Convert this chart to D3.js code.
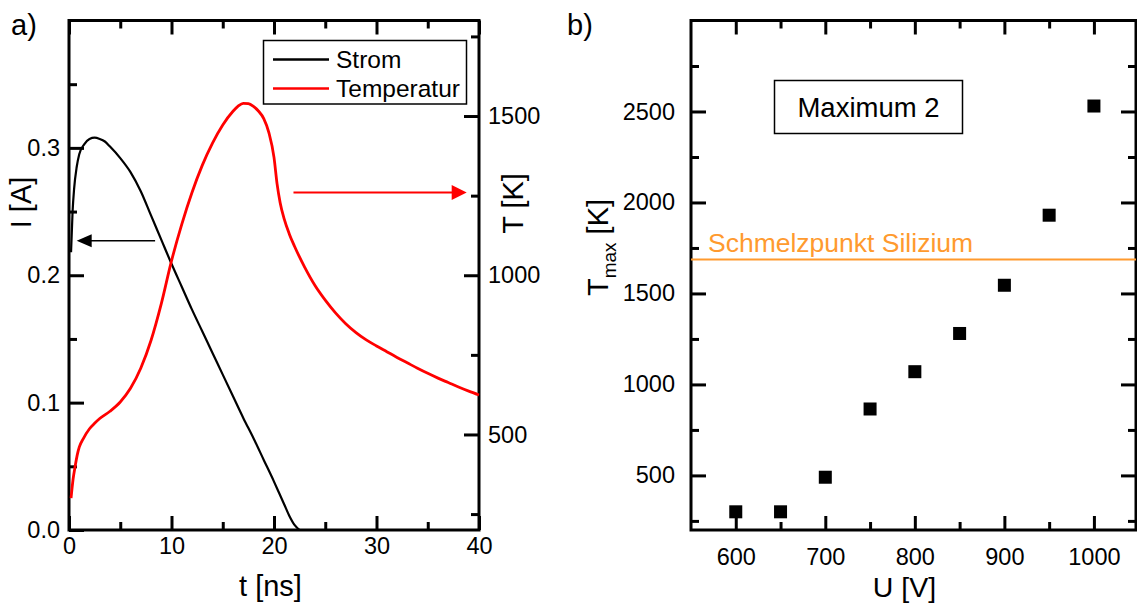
<!DOCTYPE html>
<html><head><meta charset="utf-8">
<script src="https://cdn.jsdelivr.net/npm/d3@7"></script>
<style>
body{margin:0;background:#fff}
svg{display:block;font-family:"Liberation Sans",Arial,Helvetica,sans-serif}
</style></head><body>
<svg id="c" width="1137" height="606"></svg>
<script>
// ---------- Panel a data ----------
const currentTime = [0.2,0.35,0.5,0.75,1.0,1.5,2.0,2.5,3.0,3.5,4.0,5.0,6.0,7.0,8.0,9.0,10.0,11.0,12.0,13.0,14.0,15.0,16.0,17.0,18.0,19.0,20.0,20.5,21.0,21.5,22.0,22.5];
const currentA    = [0.218,0.250,0.268,0.285,0.295,0.303,0.307,0.308,0.307,0.305,0.301,0.292,0.281,0.266,0.247,0.228,0.209,0.191,0.173,0.156,0.139,0.122,0.105,0.088,0.072,0.055,0.038,0.029,0.020,0.011,0.004,0.000];
const tempTime = [0.2,0.4,0.6,0.8,1.0,1.4,2.0,2.5,3.0,4.0,5.0,6.0,7.0,8.0,9.0,10.0,11.0,12.0,13.0,14.0,15.0,16.0,16.5,17.0,17.5,18.0,18.5,19.0,19.5,20.0,20.3,20.6,21.0,21.5,22.0,23.0,24.0,25.0,26.0,27.0,28.0,29.0,30.0,31.0,32.0,33.0,34.0,35.0,36.0,37.0,38.0,39.0,40.0];
const tempK    = [300,360,400,435,460,487,518,535,550,573,602,645,708,795,910,1045,1160,1260,1345,1415,1472,1515,1531,1540,1539,1530,1515,1492,1448,1370,1287,1228,1176,1129,1091,1025,968,922,882,848,820,797,778,760,742,725,708,692,677,663,649,636,624];
const tTicks = [0,10,20,30,40];
const tMinor = [5,15,25,35];
const iTicks = [0.0,0.1,0.2,0.3];
const iMinor = [0.05,0.15,0.25,0.35];
const kTicks = [500,1000,1500];
const kMinor = [250,750,1250,1750];
const legendLabels = ["Strom","Temperatur"];
// arrows: [t start, t end (tip), value]
const arrowCurrent = [8.4, 0.75, 0.227];
const arrowTemp = [21.9, 38.8, 1260];

// ---------- Panel b data ----------
const voltage = [600,650,700,750,800,850,900,950,1000];
const tmax    = [300,300,490,865,1070,1280,1545,1930,2530];
const uTicks = [600,700,800,900,1000];
const uMinor = [650,750,850,950];
const tmTicks = [500,1000,1500,2000,2500];
const tmMinor = [250,750,1250,1750,2250,2750];
const meltingPoint = 1687;
const meltingLabel = "Schmelzpunkt Silizium";
const boxLabel = "Maximum 2";

const svg = d3.select("#c");
const ORANGE = "#ff9a2e";
const TICKFS = 23.5;
const TITLEFS = 29;

function styleAxis(g){
  g.select(".domain").remove();
  g.attr("font-family", null).attr("font-size", TICKFS);
  g.selectAll(".tick line").attr("stroke","#000").attr("stroke-width",3);
  g.selectAll(".tick text").attr("fill","#000");
}

// ================= Panel a =================
const xa = d3.scaleLinear().domain([0,40]).range([69,479]);
const yI = d3.scaleLinear().domain([0,0.4]).range([530,20.5]);
const yT = d3.scaleLinear().domain([200,1800]).range([530,20.5]);
const A = svg.append("g");

A.append("g").attr("transform","translate(0,530)")
  .call(d3.axisBottom(xa).tickValues(tTicks).tickSize(-14).tickPadding(7).tickFormat(d3.format("d"))).call(styleAxis);
A.append("g").attr("transform","translate(0,530)")
  .call(d3.axisBottom(xa).tickValues(tMinor).tickSize(-8).tickFormat("")).call(styleAxis);
A.append("g").attr("transform","translate(0,20.5)")
  .call(d3.axisTop(xa).tickValues(tTicks).tickSize(-14).tickFormat("")).call(styleAxis);
A.append("g").attr("transform","translate(0,20.5)")
  .call(d3.axisTop(xa).tickValues(tMinor).tickSize(-8).tickFormat("")).call(styleAxis);
A.append("g").attr("transform","translate(69,0)")
  .call(d3.axisLeft(yI).tickValues(iTicks).tickSize(-15).tickPadding(9).tickFormat(d3.format(".1f"))).call(styleAxis);
A.append("g").attr("transform","translate(69,0)")
  .call(d3.axisLeft(yI).tickValues(iMinor).tickSize(-8).tickFormat("")).call(styleAxis);
A.append("g").attr("transform","translate(479,0)")
  .call(d3.axisRight(yT).tickValues(kTicks).tickSize(-15).tickPadding(9).tickFormat(d3.format("d"))).call(styleAxis);
A.append("g").attr("transform","translate(479,0)")
  .call(d3.axisRight(yT).tickValues(kMinor).tickSize(-8).tickFormat("")).call(styleAxis);

A.append("rect").attr("x",xa(0)).attr("y",yI(0.4)).attr("width",xa(40)-xa(0)).attr("height",yI(0)-yI(0.4))
  .attr("fill","none").attr("stroke","#000").attr("stroke-width",3);

const curData = currentTime.map((t,i)=>[t,currentA[i]]);
const tmpData = tempTime.map((t,i)=>[t,tempK[i]]);
A.append("path").datum(curData)
  .attr("d", d3.line().x(d=>xa(d[0])).y(d=>yI(d[1])).curve(d3.curveMonotoneX))
  .attr("fill","none").attr("stroke","#000").attr("stroke-width",2.2);
A.append("path").datum(tmpData)
  .attr("d", d3.line().x(d=>xa(d[0])).y(d=>yT(d[1])).curve(d3.curveMonotoneX))
  .attr("fill","none").attr("stroke","#ff0000").attr("stroke-width",2.8);

// arrows
function arrow(g, x0, x1, y, color, sw, hl, hw){
  const dir = Math.sign(x1-x0);
  g.append("line").attr("x1",x0).attr("x2",x1-dir*hl*0.8).attr("y1",y).attr("y2",y)
    .attr("stroke",color).attr("stroke-width",sw);
  g.append("path").attr("d",`M${x1},${y}L${x1-dir*hl},${y-hw}L${x1-dir*hl},${y+hw}Z`).attr("fill",color);
}
arrow(A, xa(arrowCurrent[0]), xa(arrowCurrent[1]), yI(arrowCurrent[2]), "#000", 1.5, 15, 6.5);
arrow(A, xa(arrowTemp[0]), xa(arrowTemp[1]), yT(arrowTemp[2]), "#ff0000", 2, 15, 7.5);

// legend
const L = A.append("g");
L.append("rect").attr("x",263.5).attr("y",40.5).attr("width",203).attr("height",63.5)
  .attr("fill","#fff").attr("stroke","#000").attr("stroke-width",1.5);
const legendColors = ["#000","#ff0000"];
legendLabels.forEach((lab,i)=>{
  const y = 59.5 + i*29;
  L.append("line").attr("x1",273).attr("x2",329).attr("y1",y).attr("y2",y)
    .attr("stroke",legendColors[i]).attr("stroke-width",2.6);
  L.append("text").attr("x",336).attr("y",y+8.5).attr("font-size",24.5).attr("fill","#000").text(lab);
});

// axis titles
A.append("text").attr("x",270.5).attr("y",596).attr("text-anchor","middle").attr("font-size",TITLEFS).text("t [ns]");
A.append("text").attr("transform","translate(31,202.5) rotate(-90)").attr("text-anchor","middle").attr("font-size",TITLEFS).text("I [A]");
A.append("text").attr("transform","translate(523,203.5) rotate(-90)").attr("text-anchor","middle").attr("font-size",TITLEFS).text("T [K]");
A.append("text").attr("x",11).attr("y",35).attr("font-size",29).text("a)");

// ================= Panel b =================
const xb = d3.scaleLinear().domain([550,1047]).range([691,1136]);
const yb = d3.scaleLinear().domain([200,3000]).range([530,20.5]);
const B = svg.append("g");

B.append("g").attr("transform","translate(0,530)")
  .call(d3.axisBottom(xb).tickValues(uTicks).tickSize(-14).tickPadding(18).tickFormat(d3.format("d"))).call(styleAxis);
B.append("g").attr("transform","translate(0,530)")
  .call(d3.axisBottom(xb).tickValues(uMinor).tickSize(-8).tickFormat("")).call(styleAxis);
B.append("g").attr("transform","translate(0,20.5)")
  .call(d3.axisTop(xb).tickValues(uTicks).tickSize(-14).tickFormat("")).call(styleAxis);
B.append("g").attr("transform","translate(0,20.5)")
  .call(d3.axisTop(xb).tickValues(uMinor).tickSize(-8).tickFormat("")).call(styleAxis);
B.append("g").attr("transform","translate(691,0)")
  .call(d3.axisLeft(yb).tickValues(tmTicks).tickSize(-15).tickPadding(16).tickFormat(d3.format("d"))).call(styleAxis);
B.append("g").attr("transform","translate(691,0)")
  .call(d3.axisLeft(yb).tickValues(tmMinor).tickSize(-8).tickFormat("")).call(styleAxis);
B.append("g").attr("transform","translate(1136,0)")
  .call(d3.axisRight(yb).tickValues(tmTicks).tickSize(-15).tickFormat("")).call(styleAxis);
B.append("g").attr("transform","translate(1136,0)")
  .call(d3.axisRight(yb).tickValues(tmMinor).tickSize(-8).tickFormat("")).call(styleAxis);

B.append("rect").attr("x",xb(550)).attr("y",yb(3000)).attr("width",xb(1047)-xb(550)).attr("height",yb(200)-yb(3000))
  .attr("fill","none").attr("stroke","#000").attr("stroke-width",3);

// melting point line
B.append("line").attr("x1",xb(550)).attr("x2",xb(1047)).attr("y1",yb(meltingPoint)).attr("y2",yb(meltingPoint))
  .attr("stroke",ORANGE).attr("stroke-width",2);
B.append("text").attr("x",708).attr("y",252).attr("font-size",26.5).attr("fill",ORANGE).text(meltingLabel);

// box label
B.append("rect").attr("x",774.5).attr("y",80.5).attr("width",188).attr("height",53)
  .attr("fill","#fff").attr("stroke","#000").attr("stroke-width",1.5);
B.append("text").attr("x",868.5).attr("y",117).attr("text-anchor","middle").attr("font-size",27.5).text(boxLabel);

// squares
const sq = 13;
B.selectAll("rect.pt").data(voltage.map((v,i)=>[v,tmax[i]])).join("rect").attr("class","pt")
  .attr("x",d=>xb(d[0])-sq/2).attr("y",d=>yb(d[1])-sq/2).attr("width",sq).attr("height",sq).attr("fill","#000");

// axis titles
B.append("text").attr("x",904.5).attr("y",596.5).attr("text-anchor","middle").attr("font-size",28.5).text("U [V]");
const yt = B.append("text").attr("transform","translate(607.5,247.5) rotate(-90)").attr("text-anchor","middle").attr("font-size",TITLEFS);
yt.append("tspan").text("T");
yt.append("tspan").attr("dy",8).attr("font-size",19).text("max");
yt.append("tspan").attr("dy",-8).text(" [K]");
B.append("text").attr("x",567).attr("y",35).attr("font-size",29).text("b)");
</script>
</body></html>
